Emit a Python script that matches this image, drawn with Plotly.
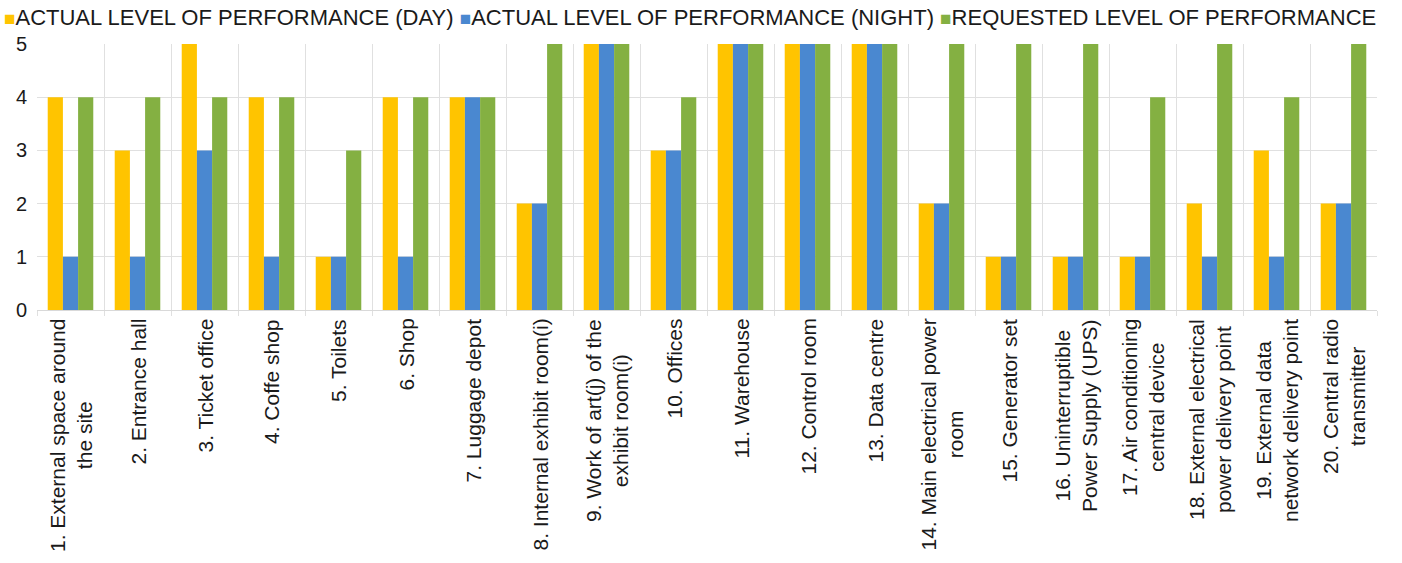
import plotly.graph_objects as go

categories = [
    "1. External space around<br>the site",
    "2. Entrance hall",
    "3. Ticket office",
    "4. Coffe shop",
    "5. Toilets",
    "6. Shop",
    "7. Luggage depot",
    "8. Internal exhibit room(i)",
    "9. Work of art(j) of the<br>exhibit room(i)",
    "10. Offices",
    "11. Warehouse",
    "12. Control room",
    "13. Data centre",
    "14. Main electrical power<br>room",
    "15. Generator set",
    "16. Uninterruptible<br>Power Supply (UPS)",
    "17. Air conditioning<br>central device",
    "18. External electrical<br>power delivery point",
    "19. External data<br>network delivery point",
    "20. Central radio<br>transmitter",
]

day_level = [4, 3, 5, 4, 1, 4, 4, 2, 5, 3, 5, 5, 5, 2, 1, 1, 1, 2, 3, 2]
night_level = [1, 1, 3, 1, 1, 1, 4, 2, 5, 3, 5, 5, 5, 2, 1, 1, 1, 1, 1, 2]
requested_level = [4, 4, 4, 4, 3, 4, 4, 5, 5, 4, 5, 5, 5, 5, 5, 5, 4, 5, 4, 5]

series_names = [
    "ACTUAL LEVEL OF PERFORMANCE (DAY)",
    "ACTUAL LEVEL OF PERFORMANCE (NIGHT)",
    "REQUESTED LEVEL OF PERFORMANCE",
]
series_colors = ["#FFC400", "#4A88D0", "#84B042"]

y_ticks = [0, 1, 2, 3, 4, 5]

FONT = "Liberation Sans, Arial, sans-serif"

fig = go.Figure()
for name, vals, color in zip(series_names, [day_level, night_level, requested_level], series_colors):
    fig.add_trace(go.Bar(
        x=categories, y=vals, name=name,
        marker=dict(color=color, line=dict(width=0)),
        showlegend=False,
    ))

# Category labels, rotated and centred line by line
for cat in categories:
    fig.add_annotation(
        x=cat, y=0, xref="x", yref="y",
        text=cat, showarrow=False, textangle=-90,
        xanchor="center", yanchor="top", yshift=-7,
        align="center",
        font=dict(family=FONT, size=21, color="#1a1a1a"),
    )

# Legend line across the top
legend_html = "".join(
    f"<span style='color:{c};font-size:19px'>■</span>{n} "
    for n, c in zip(series_names, series_colors)
).strip()
fig.add_annotation(
    x=-0.026, y=1.098, xref="paper", yref="paper",
    text=legend_html, showarrow=False,
    xanchor="left", yanchor="middle",
    font=dict(family=FONT, size=22, color="#1a1a1a"),
)

fig.update_layout(
    width=1402, height=563,
    margin=dict(l=37, r=25, t=44, b=253),
    paper_bgcolor="white", plot_bgcolor="white",
    barmode="group", bargap=0.32, bargroupgap=0,
    font=dict(family=FONT, color="#1a1a1a"),
)
fig.update_xaxes(
    type="category", tickson="boundaries",
    showticklabels=False,
    showgrid=True, gridcolor="#e0e0e0", gridwidth=1,
    ticks="outside", ticklen=5, tickcolor="#e0e0e0",
    showline=True, linecolor="#d9d9d9", mirror=False,
    zeroline=False,
)
fig.update_yaxes(
    range=[0, 5], tickvals=y_ticks,
    showgrid=True, gridcolor="#e0e0e0", gridwidth=1,
    zeroline=False, showline=False,
    tickfont=dict(family=FONT, size=20, color="#1a1a1a"),
    ticks="", ticklabelstandoff=9,
)

fig.write_html("out.html")
